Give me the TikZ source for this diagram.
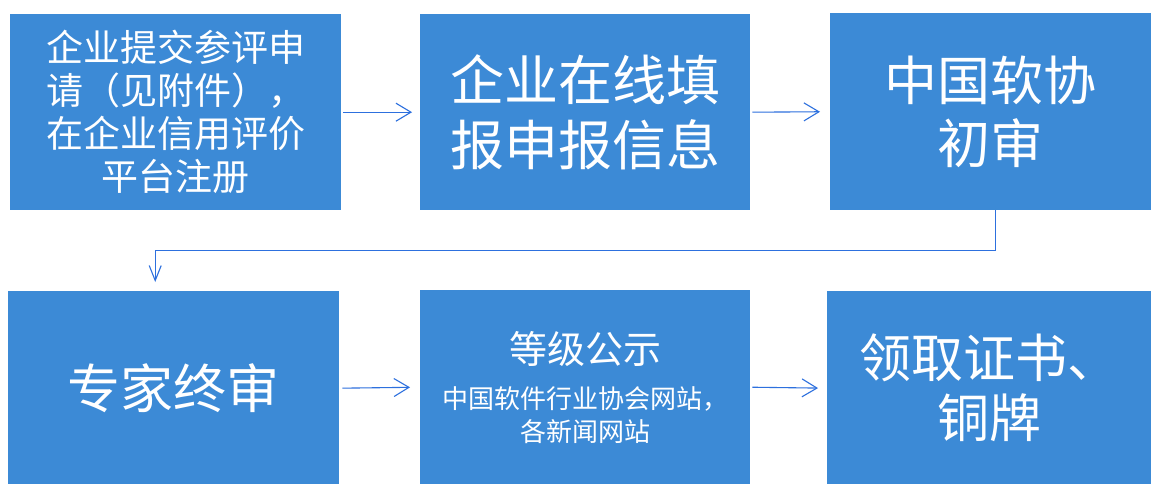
\documentclass[tikz,border=0pt]{standalone}
\usepackage{fontspec}
\newfontfamily\cjk{Noto Sans CJK SC}
\usetikzlibrary{arrows.meta}
\definecolor{boxblue}{RGB}{60,138,214}
\definecolor{arrblue}{RGB}{45,112,222}
\begin{document}
\begin{tikzpicture}[x=1pt,y=-1pt,
  box/.style={fill=boxblue,draw=none,text=white,align=center,inner sep=0pt,anchor=north west},
  arr/.style={draw=arrblue,line width=1.1pt,-{Straight Barb[length=15pt,width=18pt,line width=1.1pt]}},
  darr/.style={draw=arrblue,line width=1.1pt,-{Straight Barb[length=15pt,width=12pt,line width=1.1pt]}}]
\useasboundingbox (0,0) rectangle (1151,484);
\fill[white] (0,0) rectangle (1151,484);
% row 1
\node[box,minimum width=331pt,minimum height=196pt,font=\cjk\fontsize{37}{43}\selectfont] (b1) at (10,14)
  {企业提交参评申\\请（见附件），\\在企业信用评价\\平台注册};
\node[box,minimum width=330pt,minimum height=196pt,font=\cjk\fontsize{54}{65}\selectfont] (b2) at (420,14)
  {企业在线填\\报申报信息};
\node[box,minimum width=321pt,minimum height=197pt,font=\cjk\fontsize{53}{63}\selectfont] (b3) at (830,13)
  {中国软协\\初审};
% row 2
\node[box,minimum width=331pt,minimum height=194pt,font=\cjk\fontsize{53}{63}\selectfont] (b4) at (8,291)
  {专家终审};
\node[box,minimum width=330pt,minimum height=194pt,font=\cjk\fontsize{26}{33}\selectfont] (b5) at (420,290)
  {\fontsize{38}{46}\selectfont 等级公示\\[12pt]中国软件行业协会网站，\\各新闻网站};
\node[box,minimum width=324pt,minimum height=194pt,font=\cjk\fontsize{52}{60}\selectfont] (b6) at (827,291)
  {领取证书、\\铜牌};
% connectors
\draw[arr,shorten <=2pt,shorten >=8pt] (b1.east) -- (b2.west);
\draw[arr,shorten <=2pt,shorten >=10pt] (b2.east) -- (b3.west);
\draw[darr,shorten >=9pt] ([xshift=4.5pt]b3.south) -- ++(0,40) -| ([xshift=-18.5pt]b4.north);
\draw[arr,shorten <=3pt,shorten >=10pt] (b4.east) -- (b5.west);
\draw[arr,shorten <=2pt,shorten >=9pt] (b5.east) -- (b6.west);
\end{tikzpicture}
\end{document}
